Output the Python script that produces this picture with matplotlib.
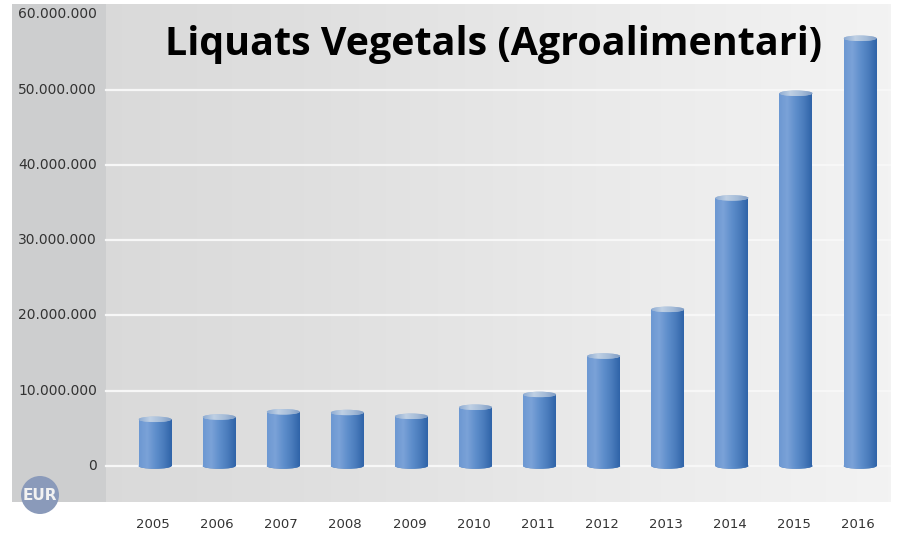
"""
Liquats Vegetals (Agroalimentari) - yearly EUR volume, cylinder bars
"""

import matplotlib
matplotlib.use('Agg')
import matplotlib.pyplot as plt
from matplotlib.colors import LinearSegmentedColormap
from matplotlib.patches import Circle, Ellipse, Rectangle
import numpy as np

years = ['2005', '2006', '2007', '2008', '2009', '2010',
         '2011', '2012', '2013', '2014', '2015', '2016']
values = [6.2e6, 6.5e6, 7.2e6, 7.1e6, 6.6e6, 7.8e6,
          9.5e6, 14.6e6, 20.8e6, 35.6e6, 49.5e6, 56.8e6]
y_ticks = [0, 1e7, 2e7, 3e7, 4e7, 5e7, 6e7]
y_labels = ['0', '10.000.000', '20.000.000', '30.000.000',
            '40.000.000', '50.000.000', '60.000.000']
title = 'Liquats Vegetals (Agroalimentari)'

W, H = 901, 535
AX_L, AX_R, AX_T, AX_B = 12, 891, 4, 502
X0, DX = 155.0, 64.1    # pixel of first bar, pixels per bar
Y0, DY = 466.0, 7.53e-6  # pixel of zero, pixels per EUR
BAR_W = 33 / DX
CAP_H = 5.5 / DY

bar_cmap = LinearSegmentedColormap.from_list(
    'bar', ['#6c98d2', '#7ba2d8', '#5f8fcc', '#4a7cbc', '#2f63a8'])
cap_cmap = LinearSegmentedColormap.from_list(
    'cap', ['#8dabd2', '#bfd0e4', '#a5bcd8', '#7f9cc4'])
bg_cmap = LinearSegmentedColormap.from_list(
    'bg', ['#d7d7d7', '#dfdfdf', '#eaeaea', '#f3f3f3'])

fig = plt.figure(figsize=(W / 100, H / 100), dpi=100, facecolor='white')
ax = fig.add_axes([AX_L / W, 1 - AX_B / H, (AX_R - AX_L) / W, (AX_B - AX_T) / H])
xlim = ((AX_L - X0) / DX, (AX_R - X0) / DX)
ylim = ((Y0 - AX_B) / DY, (Y0 - AX_T) / DY)
ramp = np.linspace(0, 1, 256).reshape(1, -1)


def gradient_in(patch, cmap):
    ax.add_patch(patch)
    x0, y0, x1, y1 = patch.get_path().transformed(patch.get_patch_transform()).get_extents().extents
    im = ax.imshow(ramp, cmap=cmap, extent=(x0, x1, y0, y1), aspect='auto', zorder=patch.get_zorder())
    im.set_clip_path(patch)


# background and left label band
ax.imshow(ramp, cmap=bg_cmap, extent=(*xlim, *ylim), aspect='auto', zorder=0)
band_r = (106 - X0) / DX
ax.add_patch(Rectangle((xlim[0], ylim[0]), band_r - xlim[0], ylim[1] - ylim[0],
                       color='#cdcecf', lw=0, zorder=1))

for t in y_ticks[:-1]:
    ax.plot([band_r, xlim[1]], [t, t], color='#f7f7f7', lw=1.6, zorder=2)

# cylinders
positions = np.arange(len(years))
bars = ax.bar(positions, values, width=BAR_W, color='none', lw=0, zorder=3)
for x, v, b in zip(positions, values, bars):
    gradient_in(Ellipse((x, 0), BAR_W, CAP_H, color='#4f80bf', lw=0, zorder=3), bar_cmap)
    gradient_in(Rectangle(b.get_xy(), b.get_width(), b.get_height(), color='#4f80bf', lw=0, zorder=3.1), bar_cmap)
    gradient_in(Ellipse((x, v), BAR_W, CAP_H, color='#a9c0dc', lw=0, zorder=3.2), cap_cmap)

ax.set_xlim(xlim)
ax.set_ylim(ylim)
ax.axis('off')

# axis labels
for t, lab in zip(y_ticks, y_labels):
    fig.text(97 / W, 1 - (Y0 - t * DY) / H, lab, ha='right', va='center',
             fontsize=10, color='#333333', family='DejaVu Sans')
for x, lab in zip(positions, years):
    fig.text((X0 + x * DX - 2) / W, 1 - 525 / H, lab, ha='center', va='center',
             fontsize=9.5, color='#333333', family='DejaVu Sans')

fig.text(165 / W, 1 - 44 / H, title, ha='left', va='center', fontsize=28.35,
         fontweight='bold', color='black', family='Open Sans')

# EUR badge
fig.add_artist(Circle((40, H - 495), 19, transform=None, color='#8a9aba', lw=0))
fig.text(40 / W, 1 - 495 / H, 'EUR', ha='center', va='center', fontsize=11,
         fontweight='bold', color='#f2f2f2', family='DejaVu Sans')

fig.savefig('out.png', dpi=100)
